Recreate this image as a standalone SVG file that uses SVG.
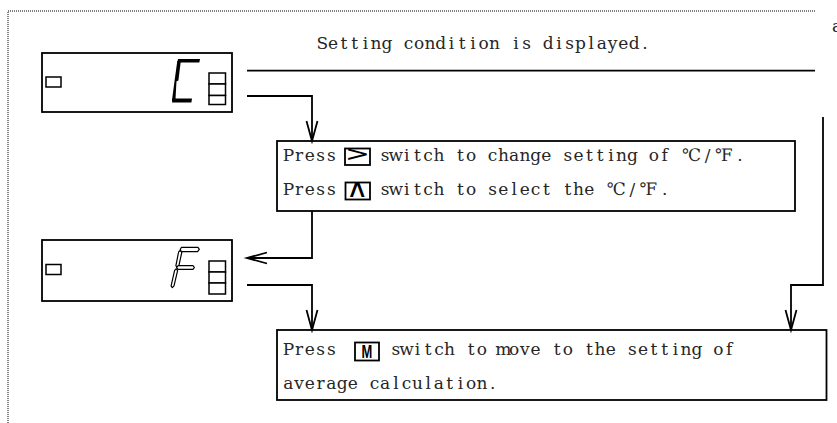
<svg xmlns="http://www.w3.org/2000/svg" width="837" height="423" viewBox="0 0 837 423">
  <defs>
    <marker id="arrow" markerUnits="userSpaceOnUse" viewBox="-22 -8 24 16" refX="0" refY="0" markerWidth="24" markerHeight="16" orient="auto" overflow="visible">
      <path d="M-20,-5.5 L0,0 L-20,5.5" fill="none" stroke="#000" stroke-width="1.8"/>
    </marker>
    <style>
      .frame{fill:none;stroke:#000;stroke-width:1.8}
      .lamp{fill:#fff;stroke:#000;stroke-width:1.5}
      .segfill{fill:#000;stroke:none}
      .segline{fill:#fff;stroke:#000;stroke-width:1.2;stroke-linejoin:round}
      .wire{fill:none;stroke:#000;stroke-width:1.8}
      .dots{fill:none;stroke:#000;stroke-width:1;stroke-dasharray:1 1}
      .txt{font-family:"DejaVu Serif","Liberation Serif","Noto Sans CJK JP",serif;font-size:17px;fill:#262626;text-anchor:middle}
      .keybox{fill:#fff;stroke:#000;stroke-width:1.8}
      .keysym{font-family:"DejaVu Sans",sans-serif;fill:#000;text-anchor:middle}
      .keym{font-family:"Liberation Sans",sans-serif;font-weight:bold;fill:#000;text-anchor:middle}
    </style>
  </defs>

  <rect width="837" height="423" fill="#fff"/>

  <!-- dotted page frame -->
  <path class="dots" d="M8,423 V11 H815"/>
  <text x="832" y="32" style="font-family:'DejaVu Serif',serif;font-size:17px;fill:#262626">a</text>

  <!-- display showing C -->
  <g id="display-c">
    <rect class="frame" x="42" y="53" width="190" height="59"/>
    <rect class="lamp" x="46" y="77" width="15" height="10"/>
    <polygon class="segfill" points="178,59 200,59 199.3,62.5 177.3,62.5"/>
    <polygon class="segfill" points="177.3,61 180.8,61 178.4,80.5 175.4,82 176.5,81 175.4,101 171.9,101 174.6,80.5"/>
    <polygon class="segfill" points="172.6,98.5 192,98.5 191.4,102.6 172,102.6"/>
    <rect class="lamp" x="209" y="73" width="16.5" height="11"/>
    <rect class="lamp" x="209" y="84" width="16.5" height="11.5"/>
    <rect class="lamp" x="209" y="95.5" width="16.5" height="9"/>
  </g>

  <!-- display showing F -->
  <g id="display-f">
    <rect class="frame" x="42" y="240" width="190" height="61"/>
    <rect class="lamp" x="46" y="264.5" width="15" height="10"/>
    <path class="segline" d="M181.5,247.3 L198,247.3 L199.3,249.3 L197.6,251.6 L181.2,251.6 L180.2,249.5 Z"/>
    <path class="segline" d="M180.2,250.5 L181.8,252.3 L178.9,265.6 L176.9,267.2 L175.9,265.6 L178.6,252 Z"/>
    <path class="segline" d="M178.2,265.7 L193,265.7 L194.4,267.5 L193,269.4 L178,269.4 L176.6,267.5 Z"/>
    <path class="segline" d="M176.3,268.8 L177.6,270.6 L174,285.8 L172.3,287.6 L171.1,285.8 L174.6,270.4 Z"/>
    <rect class="lamp" x="209" y="261" width="16.5" height="11"/>
    <rect class="lamp" x="209" y="272" width="16.5" height="11"/>
    <rect class="lamp" x="209" y="283" width="16.5" height="11"/>
  </g>

  <!-- caption over the line from the first display -->
  <g id="caption">
    <text class="txt" y="49" x="322.4 333.1 343.9 354.6 365.4 376.1 386.9 397.6 408.4 419.1 429.9 440.6 451.4 462.1 472.9 483.6 494.4 505.1 515.9 526.6 537.4 548.1 558.9 569.6 580.4 591.1 601.9 612.6 623.4 634.1 644.9">Setting condition is displayed.</text>
  </g>

  <!-- step: change unit -->
  <g id="step-unit">
    <rect class="frame" x="277" y="141" width="518" height="70"/>
    <text class="txt" y="161" x="288.4 299.1 309.9 320.6 331.4">Press</text>
    <rect class="keybox" x="345" y="148.5" width="25" height="16.5"/>
    <text class="keysym" font-size="22" transform="translate(357.5,161.3) scale(1.35,1)">&gt;</text>
    <text class="txt" y="161" x="385.1 395.9 406.6 417.4 428.1 438.9 449.6 460.4 471.1 481.9 492.6 503.4 514.1 524.9 535.6 546.4 557.1 567.9 578.6 589.4 600.1 610.9 621.6 632.4 643.1 653.9 664.6 675.4 691.5 707.6 723.8 739.9">switch to change setting of ℃/℉.</text>
    <text class="txt" y="195" x="288.4 299.1 309.9 320.6 331.4">Press</text>
    <rect class="keybox" x="345.5" y="182.5" width="24.5" height="17"/>
    <text class="keysym" font-size="24" font-weight="200" transform="translate(357.7,197.3) scale(1.3,1.1)">∧</text>
    <text class="txt" y="195" x="385.1 395.9 406.6 417.4 428.1 438.9 449.6 460.4 471.1 481.9 492.6 503.4 514.1 524.9 535.6 546.4 557.1 567.9 578.6 589.4 600.1 616.3 632.4 648.5 664.6">switch to select the ℃/℉.</text>
  </g>

  <!-- step: move on -->
  <g id="step-next">
    <rect class="frame" x="277" y="330" width="549.5" height="70"/>
    <text class="txt" y="355" x="288.4 299.1 309.9 320.6 331.4">Press</text>
    <rect class="keybox" x="355" y="342.5" width="24" height="18"/>
    <text class="keym" font-size="18" transform="translate(367,358) scale(0.72,1)">M</text>
    <text class="txt" y="355" x="395.9 406.6 417.4 428.1 438.9 449.6 460.4 471.1 481.9 492.6 503.4 514.1 524.9 535.6 546.4 557.1 567.9 578.6 589.4 600.1 610.9 621.6 632.4 643.1 653.9 664.6 675.4 686.1 696.9 707.6 718.4 729.1">switch to move to the setting of</text>
    <text class="txt" y="389" x="288.4 299.1 309.9 320.6 331.4 342.1 352.9 363.6 374.4 385.1 395.9 406.6 417.4 428.1 438.9 449.6 460.4 471.1 481.9 492.6">average calculation.</text>
  </g>

  <!-- connectors -->
  <g id="connectors">
    <path class="wire" d="M247,70.7 H815"/>
    <path class="wire" d="M247,96 H312 V141" marker-end="url(#arrow)"/>
    <path class="wire" d="M312,211 V258 H247" marker-end="url(#arrow)"/>
    <path class="wire" d="M247,285 H312 V330" marker-end="url(#arrow)"/>
    <path class="wire" d="M823,117 V285 H791 V330" marker-end="url(#arrow)"/>
  </g>
</svg>
